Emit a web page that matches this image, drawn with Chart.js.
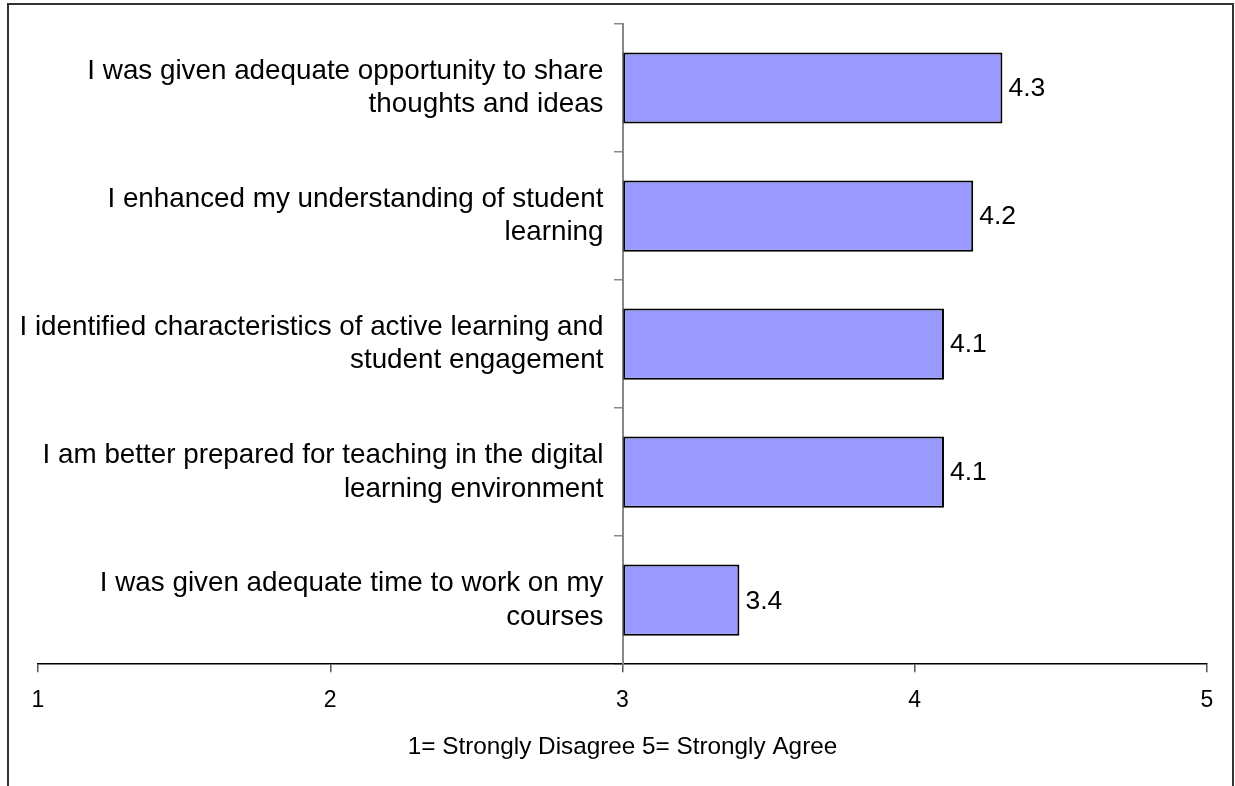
<!DOCTYPE html>
<html>
<head>
<meta charset="utf-8">
<script src="https://cdn.jsdelivr.net/npm/chart.js@4.4.1/dist/chart.umd.min.js"></script>
<style>
    html, body { margin: 0; padding: 0; background: #fff; }
    #wrap { width: 1235px; height: 786px; position: relative; }
</style>
</head>
<body>
<div id="wrap"><canvas id="surveyChart"></canvas></div>
<script>
// survey statements, top to bottom
const statements = [
    ['I was given adequate opportunity to share', 'thoughts and ideas'],
    ['I enhanced my understanding of student', 'learning'],
    ['I identified characteristics of active learning and', 'student engagement'],
    ['I am better prepared for teaching in the digital', 'learning environment'],
    ['I was given adequate time to work on my', 'courses']
];
const meanScores = [4.3, 4.2, 4.1, 4.1, 3.4];
const scaleTicks = [1, 2, 3, 4, 5];
const axisTitle = '1= Strongly Disagree 5= Strongly Agree';

const fontName = "'Liberation Sans', Arial, sans-serif";
const labelGap = 19;

// frame round the chart
const framePlugin = {
    id: 'frame',
    beforeDraw(chart) {
        const c = chart.ctx;
        c.save();
        c.strokeStyle = '#333';
        c.lineWidth = 2;
        c.strokeRect(8, 4, 1225, 800);
        c.restore();
    }
};

// value text at the end of each bar
const valueLabels = {
    id: 'valueLabels',
    afterDatasetsDraw(chart) {
        const c = chart.ctx;
        const meta = chart.getDatasetMeta(0);
        c.save();
        c.font = '26.5px ' + fontName;
        c.fillStyle = '#000';
        c.textAlign = 'left';
        c.textBaseline = 'middle';
        meta.data.forEach((bar, i) => {
            c.fillText(meanScores[i].toFixed(1), bar.x + 6, bar.y + 1);
        });
        c.restore();
    }
};

function noEdgePadding(axis) {
    axis.paddingTop = 0;
    axis.paddingBottom = 0;
    axis.paddingLeft = 0;
    axis.paddingRight = 0;
}

// the category axis sits at x = 3, push its labels a bit left of the line
function shiftLabels(axis) {
    if (axis._shifted) return;
    const orig = axis._computeLabelItems;
    axis._computeLabelItems = function (area) {
        const items = orig.call(this, area);
        items.forEach(it => { it.options.translation[0] -= labelGap; });
        return items;
    };
    axis._shifted = true;
}

const ctx = document.getElementById('surveyChart');
const surveyChart = new Chart(ctx, {
    type: 'bar',
    data: {
        labels: statements,
        datasets: [{
            data: meanScores,
            base: 3,
            backgroundColor: '#9999FF',
            borderColor: '#000',
            borderWidth: 2,
            borderSkipped: false,
            barPercentage: 0.556,
            categoryPercentage: 1
        }]
    },
    options: {
        indexAxis: 'y',
        responsive: true,
        maintainAspectRatio: false,
        animation: false,
        layout: {
            padding: { left: 38, right: 28, top: 24, bottom: 24 }
        },
        plugins: {
            legend: { display: false },
            tooltip: { enabled: false }
        },
        scales: {
            x: {
                min: 1,
                max: 5,
                afterBuildTicks: (axis) => {
                    axis.ticks = scaleTicks.map(v => ({ value: v }));
                },
                afterFit: noEdgePadding,
                border: { color: '#000', width: 1.5 },
                grid: {
                    drawOnChartArea: false,
                    tickLength: 8,
                    color: '#555',
                    lineWidth: 1.5
                },
                ticks: {
                    color: '#000',
                    padding: 15,
                    font: { family: fontName, size: 23 }
                },
                title: {
                    display: true,
                    text: axisTitle,
                    color: '#000',
                    padding: { top: 3, bottom: 0 },
                    font: { family: fontName, size: 24.3 }
                }
            },
            y: {
                position: { x: 3 },
                afterFit: noEdgePadding,
                afterUpdate: shiftLabels,
                border: { color: '#888', width: 2 },
                grid: {
                    drawOnChartArea: false,
                    tickLength: 8,
                    color: '#888',
                    lineWidth: 1.5
                },
                ticks: {
                    color: '#000',
                    padding: 10,
                    font: { family: fontName, size: 27.8, lineHeight: 1.2 }
                }
            }
        }
    },
    plugins: [framePlugin, valueLabels]
});
</script>
</body>
</html>
